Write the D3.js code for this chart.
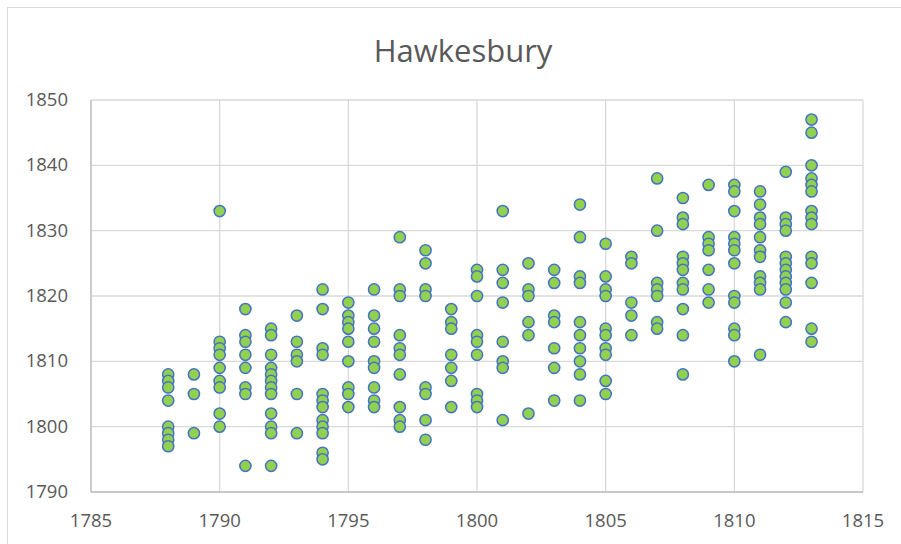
<!DOCTYPE html>
<html>
<head>
	<style>
		body { margin: 0; background: white; }
	</style>
	<script src="https://d3js.org/d3.v7.min.js"></script>
</head>
<body>
	<svg id="chart" width="901" height="544"></svg>

<script>
// years on the x axis, one list of y values per year
var years = [1788, 1789, 1790, 1791, 1792, 1793, 1794, 1795, 1796, 1797, 1798, 1799, 1800,
	1801, 1802, 1803, 1804, 1805, 1806, 1807, 1808, 1809, 1810, 1811, 1812, 1813];

var values = [
	[1808, 1807, 1806, 1804, 1800, 1799, 1798, 1797],
	[1808, 1805, 1799],
	[1833, 1813, 1812, 1811, 1809, 1807, 1806, 1802, 1800],
	[1818, 1814, 1813, 1811, 1809, 1806, 1805, 1794],
	[1815, 1814, 1811, 1809, 1808, 1807, 1806, 1805, 1802, 1800, 1799, 1794],
	[1817, 1813, 1811, 1810, 1805, 1799],
	[1821, 1818, 1812, 1811, 1805, 1804, 1803, 1801, 1800, 1799, 1796, 1795],
	[1819, 1817, 1816, 1815, 1813, 1810, 1806, 1805, 1803],
	[1821, 1817, 1815, 1813, 1810, 1809, 1806, 1804, 1803],
	[1829, 1821, 1820, 1814, 1812, 1811, 1808, 1803, 1801, 1800],
	[1827, 1825, 1821, 1820, 1806, 1805, 1801, 1798],
	[1818, 1816, 1815, 1811, 1809, 1807, 1803],
	[1824, 1823, 1820, 1814, 1813, 1811, 1805, 1804, 1803],
	[1833, 1824, 1822, 1819, 1813, 1810, 1809, 1801],
	[1825, 1821, 1820, 1816, 1814, 1802],
	[1824, 1822, 1817, 1816, 1812, 1809, 1804],
	[1834, 1829, 1823, 1822, 1816, 1814, 1812, 1810, 1808, 1804],
	[1828, 1823, 1821, 1820, 1815, 1814, 1812, 1811, 1807, 1805],
	[1826, 1825, 1819, 1817, 1814],
	[1838, 1830, 1822, 1821, 1820, 1816, 1815],
	[1835, 1832, 1831, 1826, 1825, 1824, 1822, 1821, 1818, 1814, 1808],
	[1837, 1829, 1828, 1827, 1824, 1821, 1819],
	[1837, 1836, 1833, 1829, 1828, 1827, 1825, 1820, 1819, 1815, 1814, 1810],
	[1836, 1834, 1832, 1831, 1829, 1827, 1826, 1823, 1822, 1821, 1811],
	[1839, 1832, 1831, 1830, 1826, 1825, 1824, 1823, 1822, 1821, 1819, 1816],
	[1847, 1845, 1840, 1838, 1837, 1836, 1833, 1832, 1831, 1826, 1825, 1822, 1815, 1813]
];

var xTicks = [1785, 1790, 1795, 1800, 1805, 1810, 1815];
var yTicks = [1790, 1800, 1810, 1820, 1830, 1840, 1850];
var title = "Hawkesbury";

// flatten into points
var points = [];
years.forEach(function(yr, i){
	values[i].forEach(function(v){
		points.push({x: yr, y: v});
	});
});

var svg = d3.select("svg#chart");
let margin = { top: 100, right: 38, bottom: 52, left: 91 };
let svgWidth = +svg.attr("width");
let svgHeight = +svg.attr("height");
let plotWidth = svgWidth - margin.left - margin.right;
let plotHeight = svgHeight - margin.top - margin.bottom;
let font = "'Open Sans', 'Liberation Sans', sans-serif";

// chart frame (right and bottom edges run off the picture)
svg.append("rect")
	.attr("x", 7.5)
	.attr("y", 7.5)
	.attr("width", 1000)
	.attr("height", 1000)
	.attr("fill", "white")
	.attr("stroke", "#d9d9d9")
	.attr("stroke-width", 1);

let xScale = d3.scaleLinear().domain([1785, 1815]).range([0, plotWidth]);
let yScale = d3.scaleLinear().domain([1790, 1850]).range([plotHeight, 0]);

let plot = svg.append("g")
	.attr("transform", "translate(" + margin.left + "," + margin.top + ")");

// gridlines
plot.selectAll("line.vgrid").data(xTicks)
	.enter().append("line")
	.attr("class", "vgrid")
	.attr("x1", d => xScale(d)).attr("x2", d => xScale(d))
	.attr("y1", 0).attr("y2", plotHeight)
	.attr("stroke", "#d9d9d9")
	.attr("stroke-width", 1.3);

plot.selectAll("line.hgrid").data(yTicks)
	.enter().append("line")
	.attr("class", "hgrid")
	.attr("x1", 0).attr("x2", plotWidth)
	.attr("y1", d => yScale(d)).attr("y2", d => yScale(d))
	.attr("stroke", "#d9d9d9")
	.attr("stroke-width", 1.3);

// axis lines
plot.append("line")
	.attr("x1", 0).attr("x2", plotWidth)
	.attr("y1", plotHeight).attr("y2", plotHeight)
	.attr("stroke", "#bfbfbf").attr("stroke-width", 1.3);
plot.append("line")
	.attr("x1", 0).attr("x2", 0)
	.attr("y1", 0).attr("y2", plotHeight)
	.attr("stroke", "#bfbfbf").attr("stroke-width", 1.3);

// tick labels
plot.selectAll("text.xlab").data(xTicks)
	.enter().append("text")
	.attr("class", "xlab")
	.attr("x", d => xScale(d))
	.attr("y", plotHeight + 30)
	.attr("text-anchor", "middle")
	.attr("dominant-baseline", "middle")
	.style("font-family", font)
	.style("font-size", "18.5px")
	.style("fill", "#595959")
	.text(d => d);

plot.selectAll("text.ylab").data(yTicks)
	.enter().append("text")
	.attr("class", "ylab")
	.attr("x", -23)
	.attr("y", d => yScale(d) + 1)
	.attr("text-anchor", "end")
	.attr("dominant-baseline", "middle")
	.style("font-family", font)
	.style("font-size", "18.5px")
	.style("fill", "#595959")
	.text(d => d);

// title
svg.append("text")
	.attr("x", 463)
	.attr("y", 62)
	.attr("text-anchor", "middle")
	.style("font-family", font)
	.style("font-size", "31px")
	.style("fill", "#595959")
	.text(title);

// markers
plot.selectAll("circle").data(points)
	.enter().append("circle")
	.attr("cx", d => xScale(d.x))
	.attr("cy", d => yScale(d.y))
	.attr("r", 5.6)
	.attr("fill", "#92d050")
	.attr("stroke", "#4472c4")
	.attr("stroke-width", 1.5);
</script>
</body>
</html>
